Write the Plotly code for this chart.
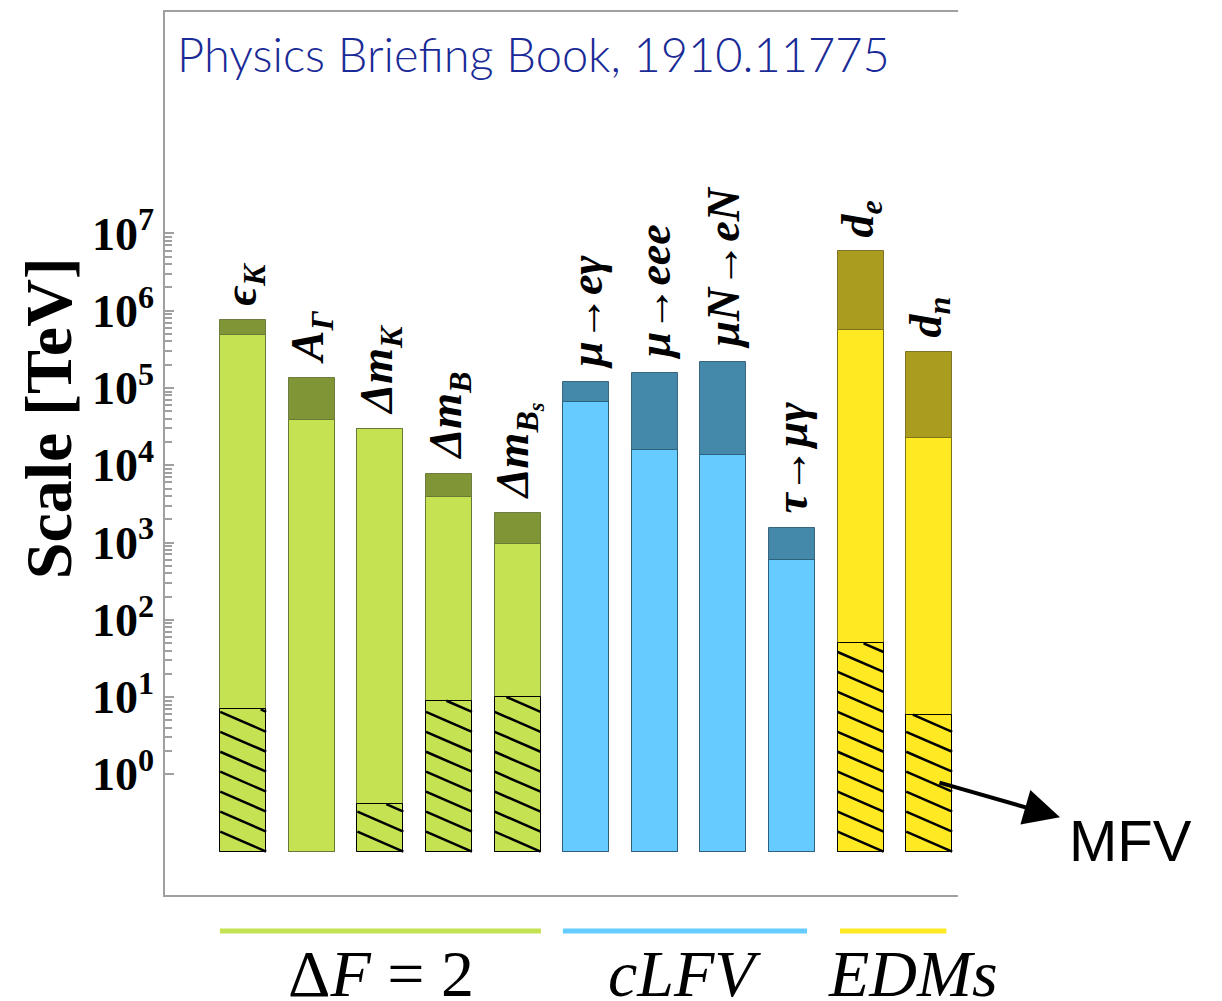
import math
import plotly.graph_objects as go

# ---- data -------------------------------------------------------------
labels = [
    "<b><i>ϵ<sub>K</sub></i></b>",
    "<b><i>A<sub>Γ</sub></i></b>",
    "<b><i>Δm<sub>K</sub></i></b>",
    "<b><i>Δm<sub>B</sub></i></b>",
    "<b><i>Δm<sub>B<sub>s</sub></sub></i></b>",
    "<b><i>μ→eγ</i></b>",
    "<b><i>μ→eee</i></b>",
    "<b><i>μN→eN</i></b>",
    "<b><i>τ→μγ</i></b>",
    "<b><i>d<sub>e</sub></i></b>",
    "<b><i>d<sub>n</sub></i></b>",
]
# upper end of each bar (dark segment top), TeV
scale_max = [7.7e5, 1.33e5, 2.97e4, 7.8e3, 2.4e3, 1.18e5, 1.57e5, 2.16e5, 1.56e3, 5.85e6, 2.93e5]
# top of the light segment, TeV
scale_min = [4.86e5, 3.88e4, 2.97e4, 3.9e3, 9.7e2, 6.6e4, 1.56e4, 1.37e4, 6.0e2, 5.6e5, 2.27e4]
# MFV reach (hatched part), TeV; None where not shown
scale_mfv = [6.9, None, 0.41, 8.95, 10.0, None, None, None, None, 49.6, 5.9]
group_of_bar = ["dF2"] * 5 + ["clfv"] * 4 + ["edm"] * 2

groups = ["dF2", "clfv", "edm"]
group_names = ["Δ<i>F</i> = 2", "<i>cLFV</i>", "<i>EDMs</i>"]
group_line_span = [(-0.34, 4.34), (4.66, 8.22), (8.70, 10.25)]
group_label_x = [2.01, 6.44, 9.77]

tick_exponents = [0, 1, 2, 3, 4, 5, 6, 7]
BAR_BASE = 0.1

# ---- styles -----------------------------------------------------------
light_col = {"dF2": "#c4e252", "clfv": "#66ccff", "edm": "#ffe923"}
dark_col = {"dF2": "#809636", "clfv": "#4489aa", "edm": "#aa9c1e"}
edge_col = {"dF2": "rgba(95,110,50,0.85)", "clfv": "rgba(40,85,110,0.85)", "edm": "rgba(110,100,25,0.85)"}
serif = "Liberation Serif"
BAR_W = 0.67
HATCH_STEP = 0.2583  # decades between hatch lines

x = list(range(len(labels)))

fig = go.Figure()

fig.add_trace(go.Bar(
    x=x, y=[v - BAR_BASE for v in scale_max], base=BAR_BASE, width=BAR_W,
    marker=dict(color=[dark_col[g] for g in group_of_bar],
                line=dict(color=[edge_col[g] for g in group_of_bar], width=1)),
    showlegend=False, hoverinfo="skip",
))
fig.add_trace(go.Bar(
    x=x, y=[v - BAR_BASE for v in scale_min], base=BAR_BASE, width=BAR_W,
    marker=dict(color=[light_col[g] for g in group_of_bar],
                line=dict(color=[edge_col[g] for g in group_of_bar], width=1)),
    showlegend=False, hoverinfo="skip",
))
mfv_x = [i for i, v in enumerate(scale_mfv) if v is not None]
mfv_v = [v for v in scale_mfv if v is not None]
fig.add_trace(go.Bar(
    x=mfv_x, y=[v - BAR_BASE for v in mfv_v], base=BAR_BASE, width=BAR_W,
    marker=dict(color="rgba(0,0,0,0)", line=dict(color="black", width=1)),
    showlegend=False, hoverinfo="skip",
))

# diagonal hatching of the MFV part, anchored at each bar's lower-right corner
hx, hy = [], []
lo = math.log10(BAR_BASE)
for xi, v in zip(mfv_x, mfv_v):
    top = math.log10(v)
    xl, xr = xi - BAR_W / 2, xi + BAR_W / 2
    k = 0
    while lo + k * HATCH_STEP < top:
        yr = lo + k * HATCH_STEP
        yl = yr + HATCH_STEP
        if yl > top:
            t = (yl - top) / HATCH_STEP
            x0, y0 = xl + t * (xr - xl), top
        else:
            x0, y0 = xl, yl
        hx += [x0, xr, None]
        hy += [10 ** y0, 10 ** yr, None]
        k += 1
fig.add_trace(go.Scatter(
    x=hx, y=hy, mode="lines", line=dict(color="black", width=2.5),
    showlegend=False, hoverinfo="skip",
))

annotations = []
for i, (lab, v) in enumerate(zip(labels, scale_max)):
    annotations.append(dict(
        x=i, y=math.log10(v), xref="x", yref="y", text=lab, showarrow=False,
        textangle=-90, xanchor="center", yanchor="bottom", yshift=12,
        font=dict(family=serif, size=46, color="black"),
    ))

# group underlines and names
shapes = []
for g, (a, b) in zip(groups, group_line_span):
    shapes.append(dict(type="line", xref="x", yref="paper", x0=a, x1=b,
                       y0=-0.0407, y1=-0.0407, line=dict(color=light_col[g], width=5)))
for name, gx in zip(group_names, group_label_x):
    annotations.append(dict(
        x=gx, y=-0.1325, xref="x", yref="paper", text=name, showarrow=False,
        xanchor="center", yanchor="bottom",
        font=dict(family=serif, size=66, color="black"),
    ))

annotations.append(dict(
    x=-0.1475, y=0.540, xref="paper", yref="paper", text="<b>Scale [TeV]</b>",
    showarrow=False, textangle=-90, xanchor="center", yanchor="middle",
    font=dict(family=serif, size=66, color="black"),
))
annotations.append(dict(
    x=0.0126, y=0.953, xref="paper", yref="paper",
    text="Physics Briefing Book, 1910.11775", showarrow=False,
    xanchor="left", yanchor="middle",
    font=dict(family="Lato", size=47, color="#1a2a96", weight=300),
))
# MFV pointer
annotations.append(dict(
    x=1.1286, y=0.0881, xref="paper", yref="paper", text="",
    showarrow=True, axref="pixel", ayref="pixel", ax=-122, ay=-35,
    arrowhead=2, arrowwidth=4, arrowsize=1.8, arrowcolor="black",
))
annotations.append(dict(
    x=1.218, y=0.0621, xref="paper", yref="paper", text="MFV", showarrow=False,
    xanchor="center", yanchor="middle",
    font=dict(family="Liberation Sans", size=58, color="black"),
))

minor_vals = [m * 10 ** e for e in range(0, 7) for m in range(2, 10)]

fig.update_layout(
    width=1222, height=1001,
    margin=dict(l=165, r=264, t=10, b=106),
    paper_bgcolor="white", plot_bgcolor="white",
    barmode="overlay", bargap=0,
    shapes=shapes, annotations=annotations,
    xaxis=dict(range=[-1.14, 10.42], showline=True, mirror=True, linecolor="#a0a0a0",
               linewidth=1.5, showticklabels=False, ticks="", showgrid=False, zeroline=False),
    yaxis=dict(type="log", range=[-1.5627, 9.867], showline=True, linecolor="#a0a0a0",
               linewidth=1.5, showgrid=False, zeroline=False,
               ticks="inside", ticklen=9, tickwidth=1.5, tickcolor="#a0a0a0",
               tickmode="array", tickvals=[10 ** e for e in tick_exponents],
               ticktext=[f"<b>10<sup>{e}</sup></b>" for e in tick_exponents],
               tickfont=dict(family=serif, size=46, color="black"),
               minor=dict(tickmode="array", tickvals=minor_vals, ticks="inside",
                          ticklen=7, tickwidth=1.5, tickcolor="#a0a0a0", showgrid=False)),
)

fig.write_html("out.html")
